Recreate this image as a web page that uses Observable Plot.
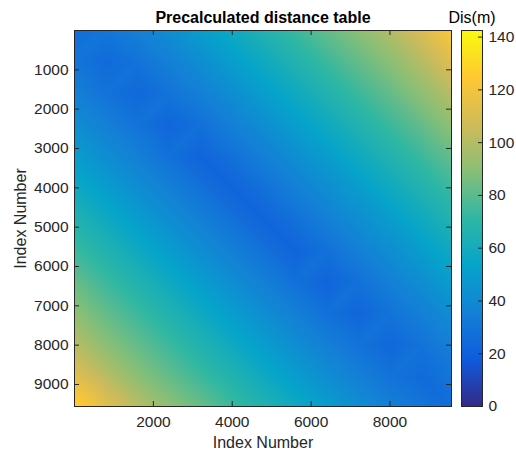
<!DOCTYPE html>
<html><head><meta charset="utf-8">
<script src="https://cdn.jsdelivr.net/npm/d3@7"></script>
<script src="https://cdn.jsdelivr.net/npm/@observablehq/plot@0.6"></script>
<style>
body{margin:0;background:#fff;font-family:"Liberation Sans",Arial,sans-serif}
#chart{position:relative;width:516px;height:453px}
#chart svg{position:absolute;top:0}
</style>
</head><body><div id="chart"></div>
<script>
// sample positions (index numbers) along both axes
const indexSamples = [0, 800, 1600, 2400, 3200, 4000, 4800, 5600, 6400, 7200, 8000, 8800, 9560];
// distance (m); row = y index sample, column = x index sample
const distRows = [
  [26, 30, 35, 42, 50, 58, 66, 74, 82, 90, 99, 110, 125],
  [30, 25, 29, 35, 42, 50, 58, 66, 74, 82, 90, 100, 112],
  [35, 29, 24, 29, 35, 42, 50, 58, 66, 74, 82, 91, 101],
  [42, 35, 29, 23, 28, 35, 42, 50, 58, 66, 74, 82, 91],
  [50, 42, 35, 28, 22, 28, 35, 42, 50, 58, 66, 74, 82],
  [58, 50, 42, 35, 28, 22, 28, 35, 42, 50, 58, 66, 74],
  [66, 58, 50, 42, 35, 28, 22, 28, 35, 42, 50, 58, 66],
  [74, 66, 58, 50, 42, 35, 28, 22, 28, 35, 42, 50, 58],
  [83, 74, 66, 58, 50, 42, 35, 28, 22, 28, 35, 42, 50],
  [91, 82, 74, 66, 58, 50, 42, 35, 28, 23, 29, 35, 42],
  [101, 90, 82, 74, 66, 58, 50, 42, 35, 29, 24, 29, 35],
  [113, 101, 90, 82, 74, 66, 58, 50, 42, 35, 29, 25, 30],
  [129, 113, 101, 91, 83, 74, 66, 58, 50, 42, 35, 30, 26]
];
const xTicks = [2000, 4000, 6000, 8000];
const yTicks = [1000, 2000, 3000, 4000, 5000, 6000, 7000, 8000, 9000];
const colorTicks = [0, 20, 40, 60, 80, 100, 120, 140];
const parula = ["#352a87", "#0f5cdd", "#1481d6", "#06a4ca", "#2eb7a4", "#87bf77", "#d1bb59", "#fec832", "#f9fb0e"];
const colorMax = 142.5;
const indexMax = 9560;

const points = indexSamples.flatMap((yv, r) => indexSamples.map((xv, c) => ({x: xv, y: yv, v: distRows[r][c]})));

const W = 516, H = 453, mL = 74, mR = 65, mT = 30, mB = 47;
const pw = W - mL - mR, ph = H - mT - mB;
const ink = "#262626";
const font = '"Liberation Sans", Arial, Helvetica, sans-serif';
const colorScale = {
  type: "linear",
  domain: parula.map((_, i) => i * colorMax / (parula.length - 1)),
  range: parula,
  interpolate: "rgb",
  clamp: true
};

const main = Plot.plot({
  width: W, height: H,
  marginLeft: mL, marginRight: mR, marginTop: mT, marginBottom: mB,
  style: {fontFamily: font, fontSize: "15.5px", color: ink, background: "white"},
  x: {domain: [0, indexMax]},
  y: {domain: [0, indexMax], reverse: true},
  color: colorScale,
  marks: [
    Plot.raster(points, {x: "x", y: "y", fill: "v", interpolate: "barycentric", x1: 0, y1: 0, x2: indexMax, y2: indexMax}),
    Plot.frame({stroke: ink}),
    Plot.tickX(xTicks, {x: d => d, insetTop: ph - 5, stroke: ink}),
    Plot.tickX(xTicks, {x: d => d, insetBottom: ph - 5, stroke: ink}),
    Plot.tickY(yTicks, {y: d => d, insetRight: pw - 5, stroke: ink}),
    Plot.tickY(yTicks, {y: d => d, insetLeft: pw - 5, stroke: ink}),
    Plot.axisX({ticks: xTicks, tickSize: 0, tickPadding: 9, tickFormat: "d", label: null, fill: ink}),
    Plot.axisY({ticks: yTicks, tickSize: 0, tickPadding: 6, tickFormat: "d", label: null, fill: ink}),
    Plot.text(["Precalculated distance table"], {frameAnchor: "top", dy: -13, lineAnchor: "middle", fontWeight: "bold", fontSize: 16, fill: "#000"}),
    Plot.text(["Index Number"], {frameAnchor: "bottom", dy: 36, lineAnchor: "middle", fontSize: 16, fill: ink}),
    Plot.text(["Index Number"], {frameAnchor: "left", dx: -54, rotate: -90, textAnchor: "middle", lineAnchor: "middle", fontSize: 16, fill: ink})
  ]
});

const cbW = 76, cbLeft = 440;
const cb = Plot.plot({
  width: cbW, height: H,
  marginLeft: 21, marginRight: cbW - 21 - 21, marginTop: mT, marginBottom: mB,
  style: {fontFamily: font, fontSize: "15.5px", color: ink, background: "none"},
  x: {domain: [0, 1], axis: null},
  y: {domain: [0, colorMax]},
  color: colorScale,
  marks: [
    Plot.raster({fill: (x, y) => y, x1: 0, x2: 1, y1: 0, y2: colorMax, pixelSize: 1}),
    Plot.frame({stroke: ink}),
    Plot.tickY(colorTicks, {y: d => d, insetLeft: 21 - 4, stroke: ink}),
    Plot.axisY({anchor: "right", ticks: colorTicks, tickSize: 0, tickPadding: 6, tickFormat: "d", label: null, fill: ink}),
    Plot.text(["Dis(m)"], {frameAnchor: "top", dy: -13, lineAnchor: "middle", fontSize: 16, fill: "#000"})
  ]
});
cb.style.left = cbLeft + "px";
cb.style.background = "none";
main.style.left = "0px";
const chart = document.getElementById("chart");
chart.append(main, cb);
</script>
</body></html>
